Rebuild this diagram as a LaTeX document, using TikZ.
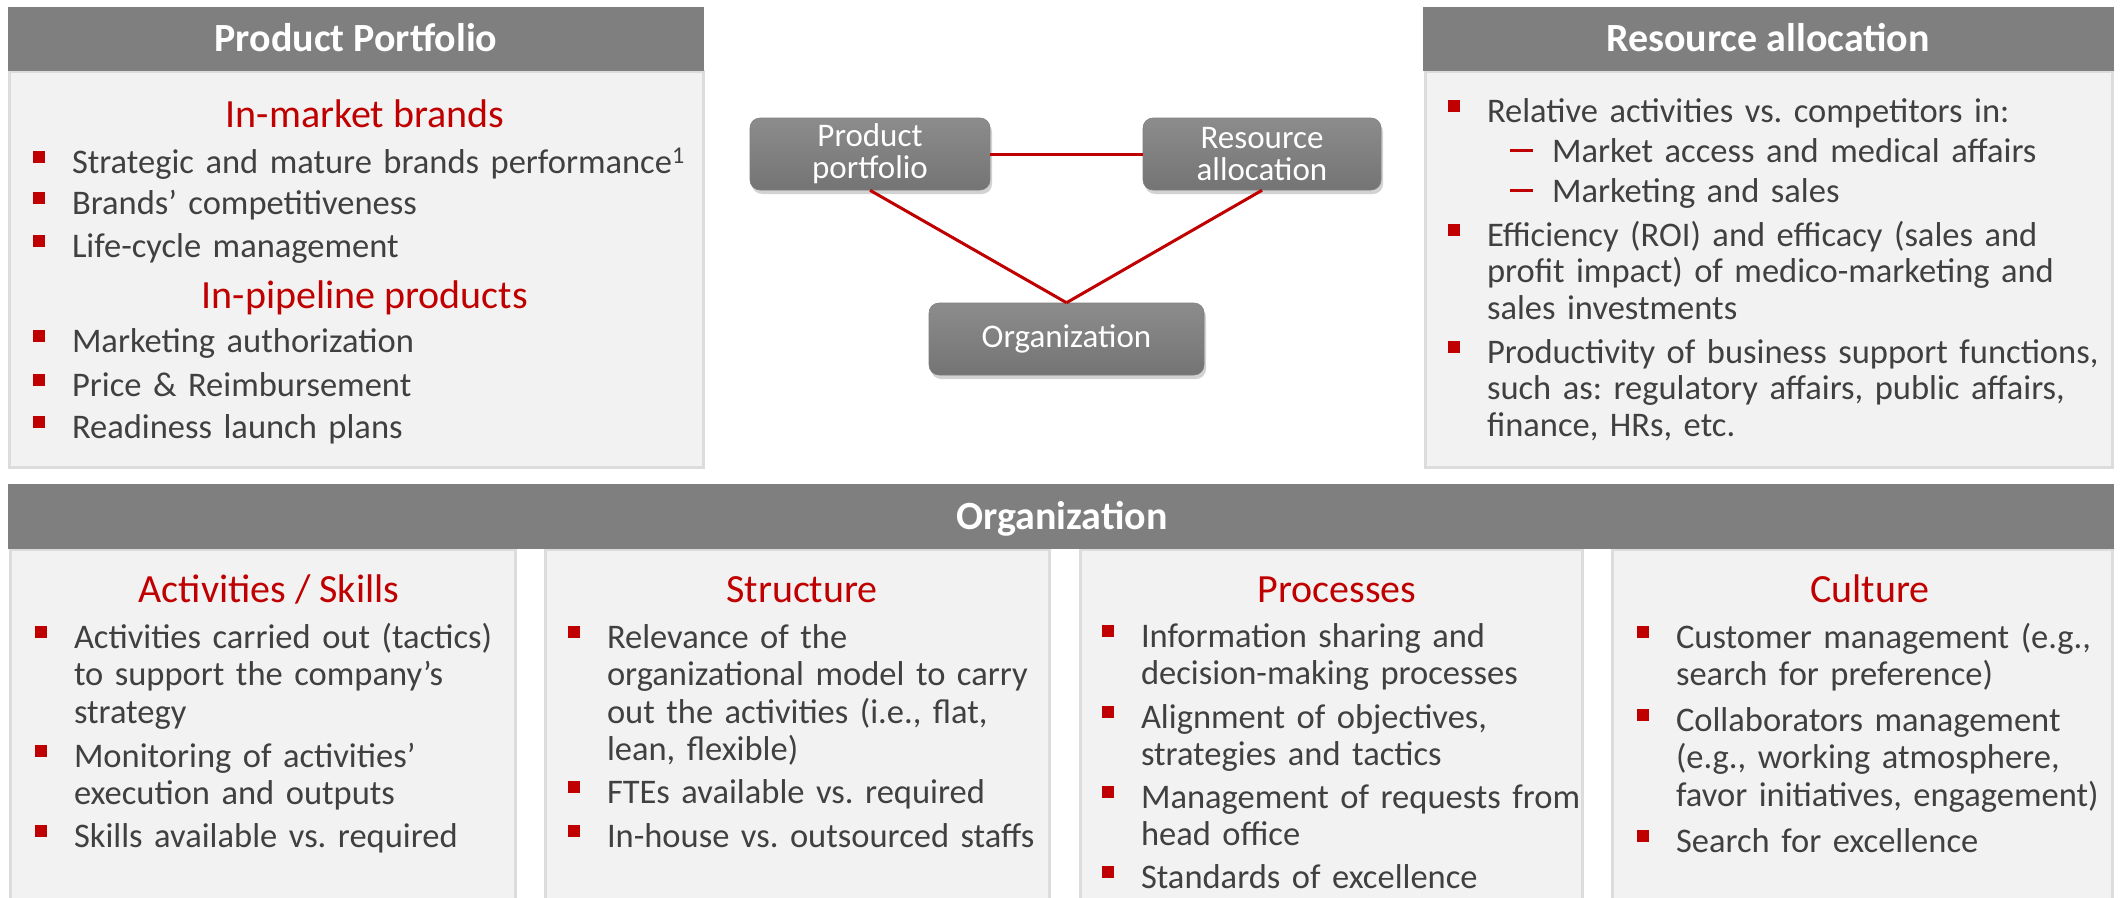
\documentclass[tikz,border=0pt]{standalone}
\usepackage{fontspec}
\setmainfont{Carlito}
\usetikzlibrary{shadows}
\frenchspacing
\definecolor{hdr}{HTML}{7F7F7F}
\definecolor{pnl}{HTML}{F2F2F2}
\definecolor{pbrd}{HTML}{DCDCDC}
\definecolor{txt}{HTML}{404040}
\definecolor{bred}{HTML}{C00000}
\definecolor{boxtop}{HTML}{8C8C8C}
\definecolor{boxbot}{HTML}{747474}
\newcommand{\bodyfont}{\fontsize{34.5}{37.5}\selectfont}
\newcommand{\rafont}{\fontsize{34.5}{36.7}\selectfont}
\newcommand{\bsq}{\llap{\textcolor{bred}{\rule[10pt]{12pt}{12.5pt}}\hspace{27pt}}}
\newcommand{\bdsh}{\llap{\textcolor{bred}{\rule[10pt]{23pt}{3pt}}\hspace{19pt}}}
\tikzset{
  hdrbar/.style={fill=hdr},
  panel/.style={fill=pnl, draw=pbrd, line width=3pt},
  ttl/.style={anchor=base, inner sep=0pt, text=white, font=\bfseries\fontsize{40}{44}\selectfont},
  subhd/.style={anchor=base, inner sep=0pt, text=bred, font=\fontsize{40}{44}\selectfont},
  btxt/.style={anchor=base west, inner sep=0pt, outer sep=0pt, align=left, text=txt, text width=640pt, font=\bodyfont},
  ratxt/.style={btxt, font=\rafont},
  cbox/.style={rounded corners=10pt, top color=boxtop, bottom color=boxbot, draw=hdr, line width=0.6pt,
    text=white, align=center, font=\fontsize{33}{32}\selectfont, inner sep=0pt,
    drop shadow={opacity=0.35, shadow xshift=2pt, shadow yshift=-4pt}},
  rline/.style={draw=bred, line width=3pt}
}
\begin{document}
\begin{tikzpicture}[x=1pt, y=-1pt]
\useasboundingbox (0,0) rectangle (2123,897);
\clip (0,0) rectangle (2123,897);
\fill[white] (0,0) rectangle (2123,897);

% ---------- Product Portfolio panel ----------
\draw[panel] (9.5,71) rectangle (703,467);
\fill[hdrbar] (8,7) rectangle (704,71);
\node[ttl] (ppt) at (356,51) {Product Portfolio};
\node[subhd] (pph1) at (365,127) {In-market brands};
\node[btxt] (pp1) at (72,173) {\bsq Strategic and mature brands performance\textsuperscript{1}};
\node[btxt] (pp2) at (72,214) {\bsq Brands’ competitiveness};
\node[btxt] (pp3) at (72,257) {\bsq Life-cycle management};
\node[subhd] (pph2) at (365,308) {In-pipeline products};
\node[btxt] (pp4) at (72,352) {\bsq Marketing authorization};
\node[btxt] (pp5) at (72,396) {\bsq Price \& Reimbursement};
\node[btxt] (pp6) at (72,438) {\bsq Readiness launch plans};

% ---------- Resource allocation panel ----------
\draw[panel] (1425,71) rectangle (2112,467);
\fill[hdrbar] (1423,7) rectangle (2114,71);
\node[ttl] (rat) at (1768,51) {Resource allocation};
\node[ratxt] (ra1) at (1487,122) {\bsq Relative activities vs. competitors in:};
\node[ratxt] (ra2) at (1552,162) {\bdsh Market access and medical affairs};
\node[ratxt] (ra3) at (1552,202) {\bdsh Marketing and sales};
\node[ratxt] (ra4) at (1487,246) {\bsq Efficiency (ROI) and efficacy (sales and\\profit impact) of medico-marketing and\\sales investments};
\node[ratxt] (ra5) at (1487,363) {\bsq Productivity of business support functions,\\such as: regulatory affairs, public affairs,\\finance, HRs, etc.};

% ---------- central triangle ----------
\node[cbox, minimum width=240pt, minimum height=72pt] (cpp) at (870,154) {Product\\portfolio};
\node[cbox, minimum width=238pt, minimum height=72pt] (cra) at (1262,154) {Resource\\allocation};
\node[cbox, minimum width=275pt, minimum height=72pt] (corg) at (1066.5,339) {Organization};
\draw[rline] (cpp.east) -- (cra.west);
\draw[rline] (cpp.south) -- (corg.north);
\draw[rline] (cra.south) -- (corg.north);

% ---------- Organization ----------
\draw[panel] (10,549) rectangle (515,910);
\draw[panel] (545,549) rectangle (1049,910);
\draw[panel] (1080,549) rectangle (1582,910);
\draw[panel] (1612,549) rectangle (2112,910);
\fill[hdrbar] (8,484) rectangle (2114,549);
\node[ttl] (orgt) at (1062,529) {Organization};

\node[subhd] (c1h) at (269,602) {Activities / Skills};
\node[btxt] (c11) at (74,648) {\bsq Activities carried out (tactics)\\to support the company’s\\strategy};
\node[btxt] (c12) at (74,767) {\bsq Monitoring of activities’\\execution and outputs};
\node[btxt] (c13) at (74,847) {\bsq Skills available vs. required};

\node[subhd] (c2h) at (802,602) {Structure};
\node[btxt] (c21) at (607,648) {\bsq Relevance of the\\organizational model to carry\\out the activities (i.e., flat,\\lean, flexible)};
\node[btxt] (c22) at (607,803) {\bsq FTEs available vs. required};
\node[btxt] (c23) at (607,847) {\bsq In-house vs. outsourced staffs};

\node[subhd] (c3h) at (1337,602) {Processes};
\node[btxt] (c31) at (1141,647) {\bsq Information sharing and\\decision-making processes};
\node[btxt] (c32) at (1141,728) {\bsq Alignment of objectives,\\strategies and tactics};
\node[btxt] (c33) at (1141,808) {\bsq Management of requests from\\head office};
\node[btxt] (c34) at (1141,888) {\bsq Standards of excellence};

\node[subhd] (c4h) at (1870,602) {Culture};
\node[btxt] (c41) at (1676,648) {\bsq Customer management (e.g.,\\search for preference)};
\node[btxt] (c42) at (1676,731) {\bsq Collaborators management\\(e.g., working atmosphere,\\favor initiatives, engagement)};
\node[btxt] (c43) at (1676,852) {\bsq Search for excellence};
\end{tikzpicture}
\end{document}
